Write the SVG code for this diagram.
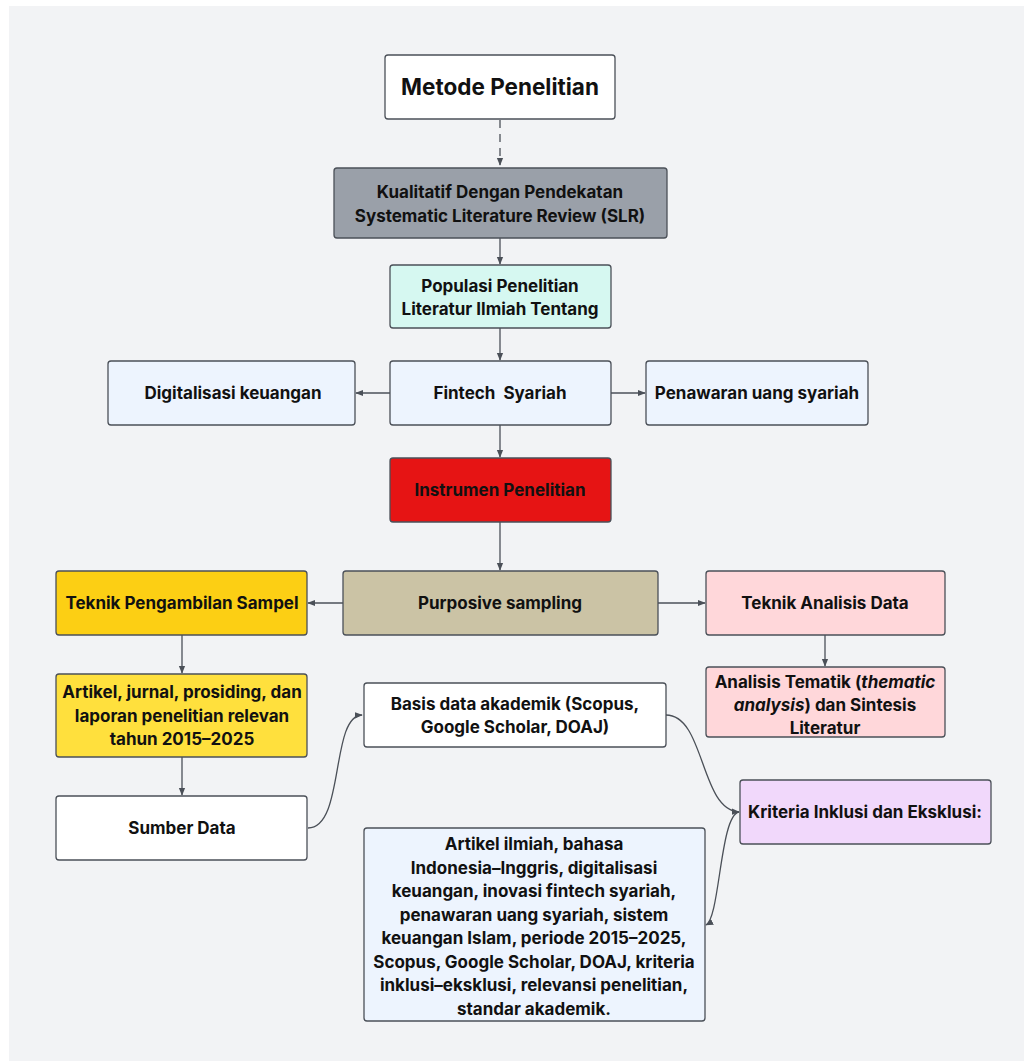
<svg xmlns="http://www.w3.org/2000/svg" width="1024" height="1061" viewBox="0 0 1024 1061">
<defs>
<style>
.n{stroke:#4b5058;stroke-width:1.3}
.t{font-family:Inter,"Liberation Sans",sans-serif;font-weight:700;font-size:17px;fill:#111;text-anchor:middle}
.c{fill:none;stroke:#4b5058;stroke-width:1.3}
</style>
<marker id="a" viewBox="0 0 10 10" refX="9" refY="5" markerWidth="8" markerHeight="8" orient="auto-start-reverse" markerUnits="userSpaceOnUse">
<path d="M0,1 L10,5 L0,9 Z" fill="#4b5058"/>
</marker>
</defs>
<rect x="0" y="0" width="1024" height="1061" fill="#ffffff"/>
<rect x="9" y="6" width="1015" height="1055" fill="#f2f3f5"/>

<g id="connectors">
<path class="c" d="M500,120 V165" stroke-dasharray="8,6" marker-end="url(#a)"/>
<path class="c" d="M500,238 V264" marker-end="url(#a)"/>
<path class="c" d="M500,328 V360" marker-end="url(#a)"/>
<path class="c" d="M390,393 H356" marker-end="url(#a)"/>
<path class="c" d="M611,393 H645" marker-end="url(#a)"/>
<path class="c" d="M500,425 V457" marker-end="url(#a)"/>
<path class="c" d="M500,522 V570" marker-end="url(#a)"/>
<path class="c" d="M343,603 H308" marker-end="url(#a)"/>
<path class="c" d="M658,603 H705" marker-end="url(#a)"/>
<path class="c" d="M182,635 V673" marker-end="url(#a)"/>
<path class="c" d="M182,757 V795" marker-end="url(#a)"/>
<path class="c" d="M825,635 V666" marker-end="url(#a)"/>
<path class="c" d="M308,828 C345,828 330,716 362,715" marker-end="url(#a)"/>
<path class="c" d="M666,715 C705,715 700,810 739,812" marker-end="url(#a)"/>
<path class="c" d="M739,812 C720,815 720,918 706,925" marker-end="url(#a)"/>
</g>

<g id="metode">
<rect class="n" x="385" y="55" width="230" height="64" rx="3" fill="#ffffff"/>
<text class="t" x="500" y="95" style="font-size:22.5px">Metode Penelitian</text>
</g>
<g id="kualitatif">
<rect class="n" x="334" y="168" width="333" height="70" rx="3" fill="#9aa0a9"/>
<text class="t" x="500" y="198">Kualitatif Dengan Pendekatan</text>
<text class="t" x="500" y="222">Systematic Literature Review (SLR)</text>
</g>
<g id="populasi">
<rect class="n" x="390" y="265" width="221" height="63" rx="3" fill="#d6f8f1"/>
<text class="t" x="500" y="292">Populasi Penelitian</text>
<text class="t" x="500" y="315">Literatur Ilmiah Tentang</text>
</g>
<g id="digitalisasi">
<rect class="n" x="108" y="361" width="247" height="64" rx="3" fill="#edf4fe"/>
<text class="t" x="233" y="399">Digitalisasi keuangan</text>
</g>
<g id="fintech">
<rect class="n" x="390" y="361" width="221" height="64" rx="3" fill="#edf4fe"/>
<text class="t" x="500" y="399" xml:space="preserve">Fintech  Syariah</text>
</g>
<g id="penawaran">
<rect class="n" x="646" y="361" width="222" height="64" rx="3" fill="#edf4fe"/>
<text class="t" x="757" y="399">Penawaran uang syariah</text>
</g>
<g id="instrumen">
<rect class="n" x="390" y="458" width="221" height="64" rx="3" fill="#e61414"/>
<text class="t" x="500" y="496">Instrumen Penelitian</text>
</g>
<g id="purposive">
<rect class="n" x="343" y="571" width="315" height="64" rx="3" fill="#cbc3a5"/>
<text class="t" x="500" y="609">Purposive sampling</text>
</g>
<g id="teknik-sampel">
<rect class="n" x="56" y="571" width="251" height="64" rx="3" fill="#fccf14"/>
<text class="t" x="182" y="609">Teknik Pengambilan Sampel</text>
</g>
<g id="teknik-analisis">
<rect class="n" x="706" y="571" width="239" height="64" rx="3" fill="#ffd7da"/>
<text class="t" x="825" y="609">Teknik Analisis Data</text>
</g>
<g id="artikel-jurnal">
<rect class="n" x="56" y="674" width="251" height="83" rx="3" fill="#ffe03d"/>
<text class="t" x="182" y="698">Artikel, jurnal, prosiding, dan</text>
<text class="t" x="182" y="722">laporan penelitian relevan</text>
<text class="t" x="182" y="745">tahun 2015–2025</text>
</g>
<g id="analisis-tematik">
<rect class="n" x="706" y="667" width="239" height="70" rx="3" fill="#ffd7da"/>
<text class="t" x="825" y="688">Analisis Tematik (<tspan font-style="italic">thematic</tspan></text>
<text class="t" x="825" y="711"><tspan font-style="italic">analysis</tspan>) dan Sintesis</text>
<text class="t" x="825" y="734">Literatur</text>
</g>
<g id="basis-data">
<rect class="n" x="364" y="683" width="302" height="64" rx="3" fill="#ffffff"/>
<text class="t" x="515" y="710">Basis data akademik (Scopus,</text>
<text class="t" x="515" y="733">Google Scholar, DOAJ)</text>
</g>
<g id="sumber-data">
<rect class="n" x="56" y="796" width="251" height="64" rx="3" fill="#ffffff"/>
<text class="t" x="182" y="834">Sumber Data</text>
</g>
<g id="kriteria">
<rect class="n" x="740" y="780" width="251" height="64" rx="3" fill="#f1d8fb"/>
<text class="t" x="865" y="818">Kriteria Inklusi dan Eksklusi:</text>
</g>
<g id="artikel-ilmiah">
<rect class="n" x="364" y="828" width="341" height="193" rx="3" fill="#edf4fe"/>
<text class="t" x="534" y="850">Artikel ilmiah, bahasa</text>
<text class="t" x="534" y="874">Indonesia–Inggris, digitalisasi</text>
<text class="t" x="534" y="897">keuangan, inovasi fintech syariah,</text>
<text class="t" x="534" y="921">penawaran uang syariah, sistem</text>
<text class="t" x="534" y="944">keuangan Islam, periode 2015–2025,</text>
<text class="t" x="534" y="968">Scopus, Google Scholar, DOAJ, kriteria</text>
<text class="t" x="534" y="991">inklusi–eksklusi, relevansi penelitian,</text>
<text class="t" x="534" y="1015">standar akademik.</text>
</g>
</svg>
